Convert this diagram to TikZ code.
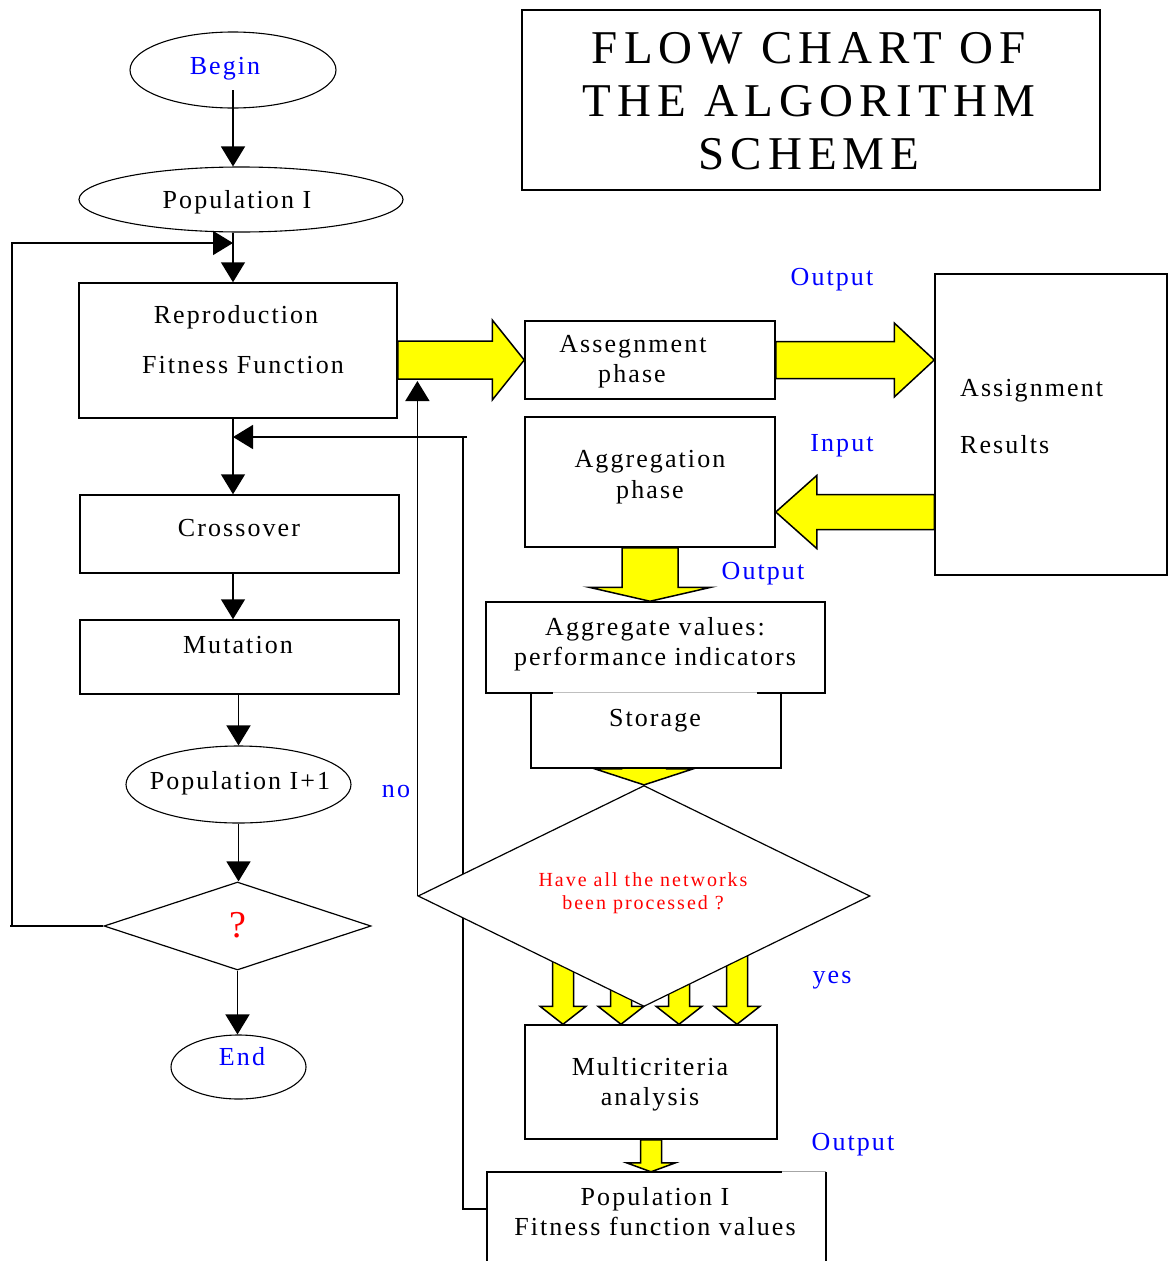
\documentclass[tikz,border=0pt]{standalone}
\usepackage{fontspec}
\setmainfont{Liberation Serif}
\newfontfamily\bodyfont{Liberation Serif}[LetterSpace=8]
\newfontfamily\titlefont{Liberation Serif}[LetterSpace=13]
\newfontfamily\redfont{Liberation Serif}[LetterSpace=10]
\usetikzlibrary{shapes.geometric,arrows.meta,calc}
\definecolor{lblue}{RGB}{0,0,255}
\definecolor{lred}{RGB}{255,0,0}
\definecolor{ayellow}{RGB}{255,255,0}
\tikzset{
  boxn/.style 2 args={rectangle, draw, line width=1.5pt, fill=white, inner sep=0pt, minimum width=#1pt, minimum height=#2pt},
  openbox/.style 2 args={rectangle, draw=none, fill=white, inner sep=0pt, minimum width=#1pt, minimum height=#2pt},
  ovaln/.style 2 args={ellipse, draw, line width=1.1pt, fill=white, inner sep=0pt, minimum width=#1pt, minimum height=#2pt},
  diam/.style 2 args={diamond, draw, line width=1.2pt, fill=white, inner sep=0pt, minimum width=#1pt, minimum height=#2pt},
  txt/.style={inner sep=0pt, anchor=base, font=\bodyfont\fontsize{26}{30}\selectfont},
  ltxt/.style={inner sep=0pt, anchor=base west, font=\bodyfont\fontsize{26}{30}\selectfont},
  lbl/.style={txt, text=lblue},
  ttl/.style={inner sep=0pt, anchor=base, font=\titlefont\fontsize{47}{53}\selectfont},
  qtxt/.style={inner sep=0pt, anchor=base, text=lred, font=\redfont\fontsize{20}{23}\selectfont},
  conn/.style={line width=1.5pt, -{Triangle[length=20pt,width=24pt]}},
  plain/.style={line width=1.5pt},
  edge/.style={line width=1.5pt},
  yarrow/.style={fill=ayellow, draw=black, line width=1.5pt, line join=miter}
}
\newcommand\yarrR[5]{\draw[yarrow] let \p1=(#1), \p2=(#2) in (\x1,\y2+#3pt) -- (\x2-#5pt,\y2+#3pt) -- (\x2-#5pt,\y2+#4pt) -- (\x2,\y2) -- (\x2-#5pt,\y2-#4pt) -- (\x2-#5pt,\y2-#3pt) -- (\x1,\y2-#3pt) -- cycle;}
\newcommand\yarrL[5]{\draw[yarrow] let \p1=(#1), \p2=(#2) in (\x1,\y2+#3pt) -- (\x2+#5pt,\y2+#3pt) -- (\x2+#5pt,\y2+#4pt) -- (\x2,\y2) -- (\x2+#5pt,\y2-#4pt) -- (\x2+#5pt,\y2-#3pt) -- (\x1,\y2-#3pt) -- cycle;}
\newcommand\yarrD[5]{\draw[yarrow] let \p1=(#1), \p2=(#2) in (\x2-#3pt,\y1) -- (\x2-#3pt,\y2+#5pt) -- (\x2-#4pt,\y2+#5pt) -- (\x2,\y2) -- (\x2+#4pt,\y2+#5pt) -- (\x2+#3pt,\y2+#5pt) -- (\x2+#3pt,\y1) -- cycle;}
\begin{document}
\begin{tikzpicture}[x=1pt,y=-1pt]
\path[use as bounding box, clip] (0,0) rectangle (1168,1261);
\fill[white] (0,0) rectangle (1168,1261);

% title
\node[boxn={578}{180}] (title) at (811,100) {};
\node[ttl] (ttl1) at (809,63) {FLOW CHART OF};
\node[ttl] (ttl2) at (809,116) {THE ALGORITHM};
\node[ttl] (ttl3) at (809,169) {SCHEME};

% left column
\coordinate (cx) at (233,0);
\node[ovaln={206}{76}] (begin) at (233,70) {};
\node[lbl] (tbegin) at (225,74) {Begin};
\node[ovaln={324}{65}] (pop) at (241,199.5) {};
\node[txt] (tpop) at (237,208) {Population I};
\draw[conn] ([yshift=-20pt]begin.center) -- (cx |- pop.north);

\node[boxn={318}{135}] (repro) at (238,350.5) {};
\node[txt] (trepro1) at (236,323) {Reproduction};
\node[txt] (trepro2) at (243,373) {Fitness Function};
\draw[conn] (cx |- pop.south) -- (cx |- repro.north);

\node[boxn={319}{78}] (cross) at (239.5,534) {};
\node[txt] (tcross) at (239,536) {Crossover};
\draw[conn] (cx |- repro.south) -- (cx |- cross.north);

\node[boxn={319}{74}] (mut) at (239.5,657) {};
\node[txt] (tmut) at (238,653) {Mutation};
\draw[conn] (cx |- cross.south) -- (cx |- mut.north);

\node[ovaln={225}{77}] (pop1) at (238.5,784.5) {};
\node[txt] (tpop1) at (240,789) {Population I+1};
\draw[conn] (pop1.north |- mut.south) -- (pop1.north);

\node[diam={267}{88}] (qdiam) at (237.5,926) {};
\node[inner sep=0pt, anchor=base, text=lred, font=\fontsize{38}{40}\selectfont] (tq) at (238,937) {?};
\draw[conn] (pop1.south) -- (pop1.south |- qdiam.north);

\node[ovaln={135}{64}] (endn) at (238.5,1067) {};
\node[lbl] (tend) at (242,1065) {End};
\draw[conn] (qdiam.south) -- (qdiam.south |- endn.north);

% loop back
\coordinate (loopA) at (12,926);
\coordinate (loopB) at (12,243);
\draw[plain] (qdiam.west) -- ([xshift=-2pt]loopA);
\draw[conn] (loopA) -- (loopB) -- (cx |- loopB);

% right column
\node[boxn={250}{78}] (assign) at (650,360) {};
\node[txt] (tassign1) at (633,352) {Assegnment};
\node[txt] (tassign2) at (632,382) {phase};

\node[boxn={250}{130}] (aggr) at (650,482) {};
\node[txt] (taggr1) at (650,467) {Aggregation};
\node[txt] (taggr2) at (650,498) {phase};

\node[boxn={232}{301}] (results) at (1051,424.5) {};
\node[ltxt] (tres1) at (960,396) {Assignment};
\node[ltxt] (tres2) at (960,453) {Results};

\node[boxn={339}{91}] (aggval) at (655.5,647.5) {};
\node[txt] (taggval1) at (655,635) {Aggregate values:};
\node[txt] (taggval2) at (655,665) {performance indicators};

\node[openbox={250}{75}] (storage) at (656,730.5) {};
\draw[edge] (storage.north west) -- (storage.south west) -- (storage.south east) -- (storage.north east);
\draw[edge] (storage.north west) -- ([xshift=22pt]storage.north west);
\draw[edge] ([xshift=-24pt]storage.north east) -- (storage.north east);
\draw[black!25, line width=0.8pt] ([xshift=22pt]storage.north west) -- ([xshift=-24pt]storage.north east);
\node[txt] (tstorage) at (655,726) {Storage};

\node[boxn={252}{114}] (multi) at (651,1082) {};
\node[txt] (tmulti1) at (650,1075) {Multicriteria};
\node[txt] (tmulti2) at (650,1105) {analysis};

\node[openbox={339}{128}] (popfit) at (656.5,1236) {};
\draw[edge] (popfit.south west) -- (popfit.north west) -- ([xshift=-44pt]popfit.north east);
\draw[black!35, line width=0.9pt] ([xshift=-44pt]popfit.north east) -- (popfit.north east);
\draw[edge] (popfit.north east) -- (popfit.south east);
\node[txt] (tpopfit1) at (655,1205) {Population I};
\node[txt] (tpopfit2) at (655,1235) {Fitness function values};

% return line
\coordinate (rh) at (467,437);
\coordinate (rv) at (463,1209);
\draw[conn] (rh) -- (cx |- rh);
\draw[plain] (popfit.west |- rv) -- (rv) -- (rv |- rh);

% yellow block arrows
\yarrR{repro.east |- assign.west}{assign.west}{19}{40}{32}
\yarrR{assign.east}{results.west |- assign.east}{18.5}{37}{40}
\coordinate (tipL) at ([yshift=-30pt]aggr.east);
\yarrL{results.west |- tipL}{tipL}{17.5}{36.5}{41}
\yarrD{aggr.south}{aggr.south |- aggval.north}{28}{61}{14}
\coordinate (ya1) at ([xshift=-88pt]multi.north);
\coordinate (ya2) at ([xshift=-30pt]multi.north);
\coordinate (ya3) at ([xshift=28pt]multi.north);
\coordinate (ya4) at ([xshift=86pt]multi.north);
\yarrD{[yshift=75pt]ya1}{ya1}{10.5}{23}{18}
\yarrD{[yshift=75pt]ya2}{ya2}{10.5}{23}{18}
\yarrD{[yshift=75pt]ya3}{ya3}{10.5}{23}{18}
\yarrD{[yshift=75pt]ya4}{ya4}{10.5}{23}{18}
\yarrD{multi.south}{multi.south |- popfit.north}{10.5}{24.5}{9}

% big decision
\node[diam={452}{221}] (bdiam) at (644,896) {};
\yarrD{bdiam.north |- storage.south}{bdiam.north}{22.5}{49}{16}
\node[qtxt] (tq1) at (643,886) {Have all the networks};
\node[qtxt] (tq2) at (643,909) {been processed ?};
\coordinate (notip) at (419,381);
\draw[conn] (bdiam.west) -- (bdiam.west |- notip);

% labels
\node[lbl] (lout1) at (832,285) {Output};
\node[lbl] (lin) at (842,451) {Input};
\node[lbl] (lout2) at (763,579) {Output};
\node[lbl] (lno) at (396,797) {no};
\node[lbl] (lyes) at (832,983) {yes};
\node[lbl] (lout3) at (853,1150) {Output};
\end{tikzpicture}
\end{document}
